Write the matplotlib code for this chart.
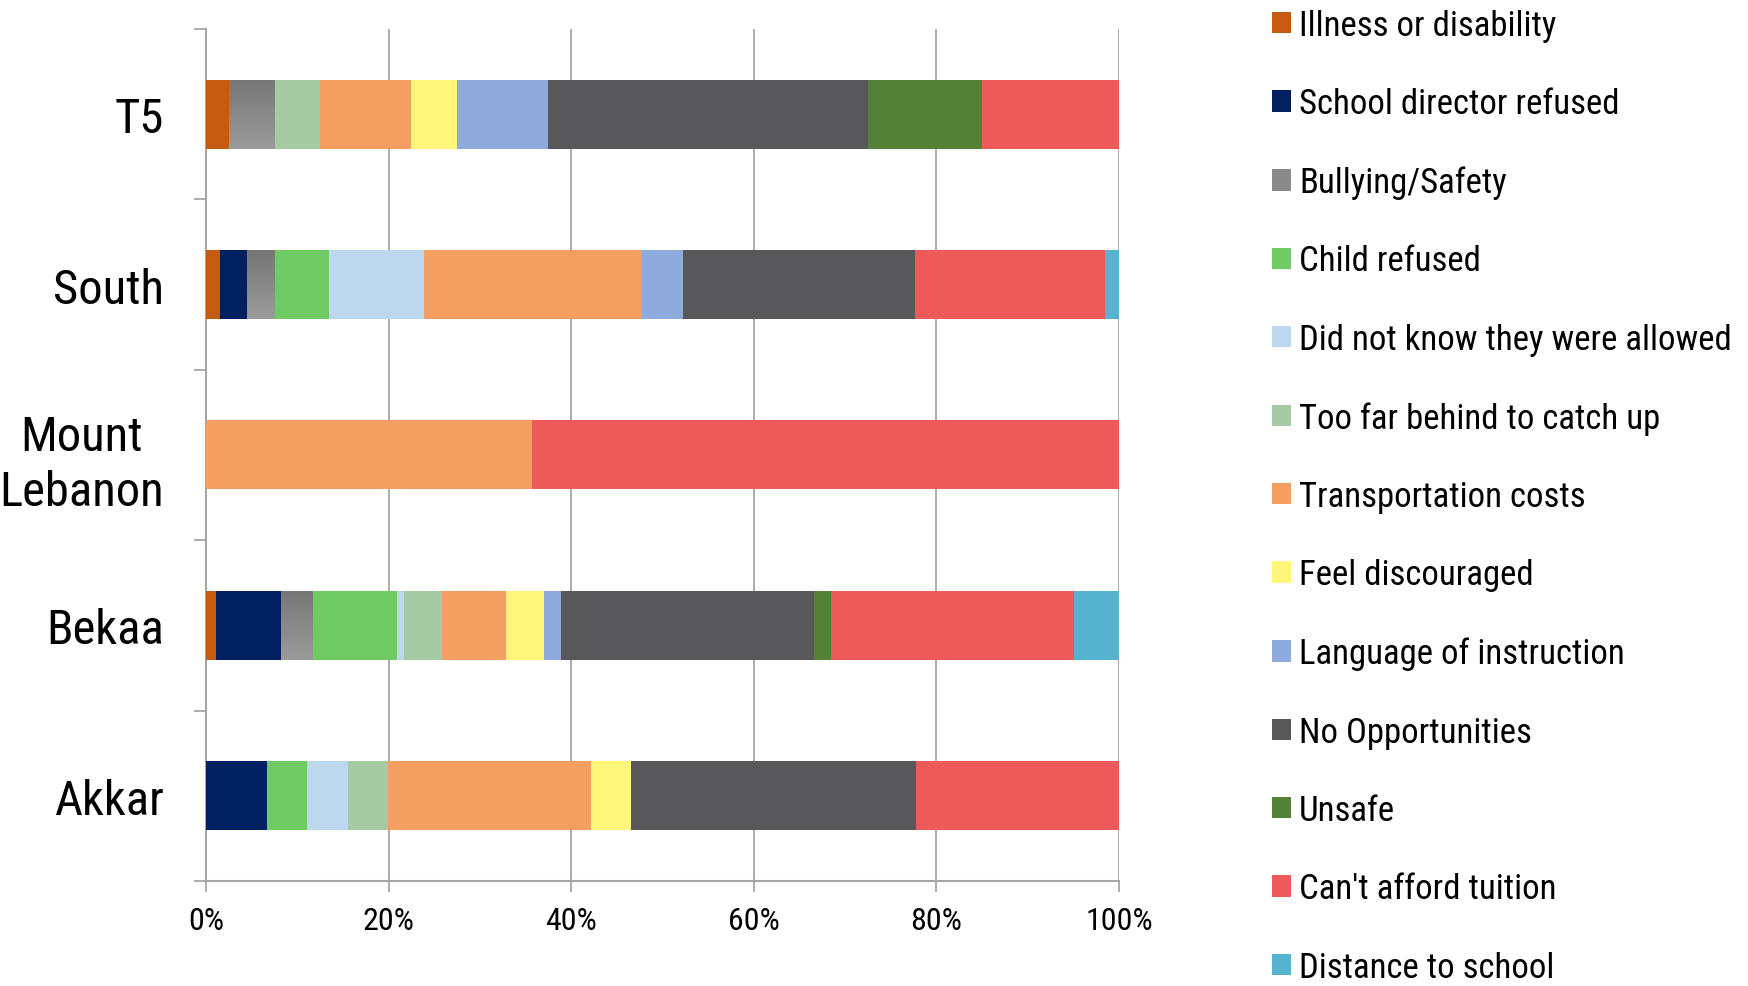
import numpy as np
import matplotlib
matplotlib.use("Agg")
import matplotlib.pyplot as plt
from matplotlib.patches import Patch
from matplotlib.colors import LinearSegmentedColormap

plt.rcParams['font.family'] = ['Roboto Condensed', 'Archivo Narrow', 'DejaVu Sans']

# regions, top to bottom
regions = ["T5", "South", "Mount\nLebanon", "Bekaa", "Akkar"]

reasons = [
    "Illness or disability",
    "School director refused",
    "Bullying/Safety",
    "Child refused",
    "Did not know they were allowed",
    "Too far behind to catch up",
    "Transportation costs",
    "Feel discouraged",
    "Language of instruction",
    "No Opportunities",
    "Unsafe",
    "Can't afford tuition",
    "Distance to school",
]

# percent of respondents per region (T5, South, Mount Lebanon, Bekaa, Akkar)
illness = [2.5, 1.5, 0, 1.1, 0]
school_director = [0, 3.0, 0, 7.1, 6.7]
bullying = [5.0, 3.0, 0, 3.4, 0]
child_refused = [0, 6.0, 0, 9.3, 4.4]
did_not_know = [0, 10.4, 0, 0.8, 4.4]
too_far = [5.0, 0, 0, 4.2, 4.4]
transport = [10.0, 23.9, 35.7, 7.0, 22.2]
feel_discouraged = [5.0, 0, 0, 4.1, 4.4]
language = [10.0, 4.5, 0, 1.9, 0]
no_opportunities = [35.0, 25.4, 0, 27.7, 31.1]
unsafe = [12.5, 0, 0, 1.9, 0]
cant_afford = [15.0, 20.9, 64.3, 26.6, 22.2]
distance = [0, 1.5, 0, 4.9, 0]

colors = ["#C55A11", "#002060", "#8A8A8A", "#6FCA63", "#BDD7EE", "#A6CAA2",
          "#F59E62", "#FFF57A", "#8FAADC", "#58585A", "#538135", "#EE5A5A",
          "#55B3CF"]

series = [illness, school_director, bullying, child_refused, did_not_know,
          too_far, transport, feel_discouraged, language, no_opportunities,
          unsafe, cant_afford, distance]

data = np.array(series, dtype=float)
data = data / data.sum(axis=0) * 100  # 100% stacked

fig = plt.figure(figsize=(17.48, 9.87), dpi=100)
ax = fig.add_axes([0.1178, 0.1064, 0.5223, 0.8632])

ypos = np.arange(len(regions))[::-1]
left = np.zeros(len(regions))
bar_h = 0.405
gray_grad = LinearSegmentedColormap.from_list("g", ["#9A9A9A", "#767676"])
for i, name in enumerate(reasons):
    bars = ax.barh(ypos, data[i], left=left, height=bar_h, color=colors[i],
                   linewidth=0, zorder=3)
    if name == "Bullying/Safety":
        # light-to-dark gray gradient like the original
        grad = np.linspace(0, 1, 100).reshape(-1, 1)
        for b in bars:
            if b.get_width() <= 0:
                continue
            x0, y0 = b.get_x(), b.get_y()
            im = ax.imshow(grad, cmap=gray_grad, aspect="auto",
                           extent=[x0, x0 + b.get_width(), y0 + b.get_height(), y0],
                           zorder=3.5)
            im.set_clip_path(b)
    left += data[i]

ax.set_xlim(0, 100)
ax.set_ylim(-0.5, len(regions) - 0.5)

ax.set_xticks(np.arange(0, 101, 20))
ax.set_xticklabels([f"{v}%" for v in range(0, 101, 20)], fontsize=23)
ax.xaxis.grid(True, color="#A6A6A6", linewidth=1.3, zorder=0)

ax.set_yticks(np.arange(-0.5, len(regions), 1.0))
ax.set_yticklabels([])
ax.set_yticks(ypos, minor=True)
ax.set_yticklabels(regions, minor=True, fontsize=35, multialignment="center",
                   linespacing=1.25)
ax.tick_params(axis="y", which="minor", length=0, pad=30)
ax.tick_params(axis="y", which="major", length=9, width=1.3, color="#A6A6A6")
ax.tick_params(axis="x", length=8, width=1.3, color="#A6A6A6", pad=10)

for s in ["top", "right"]:
    ax.spines[s].set_visible(False)
for s in ["left", "bottom"]:
    ax.spines[s].set_color("#A6A6A6")
    ax.spines[s].set_linewidth(1.5)
ax.set_axisbelow(True)

handles = [Patch(facecolor=c, edgecolor="none") for c in colors]
fig.legend(handles, reasons, loc="upper left", bbox_to_anchor=(0.7195, 1.004),
           frameon=False, fontsize=25, handlelength=0.57, handleheight=0.57,
           handletextpad=0.22, labelspacing=1.305, borderaxespad=0)

fig.savefig("out.png", dpi=100)
